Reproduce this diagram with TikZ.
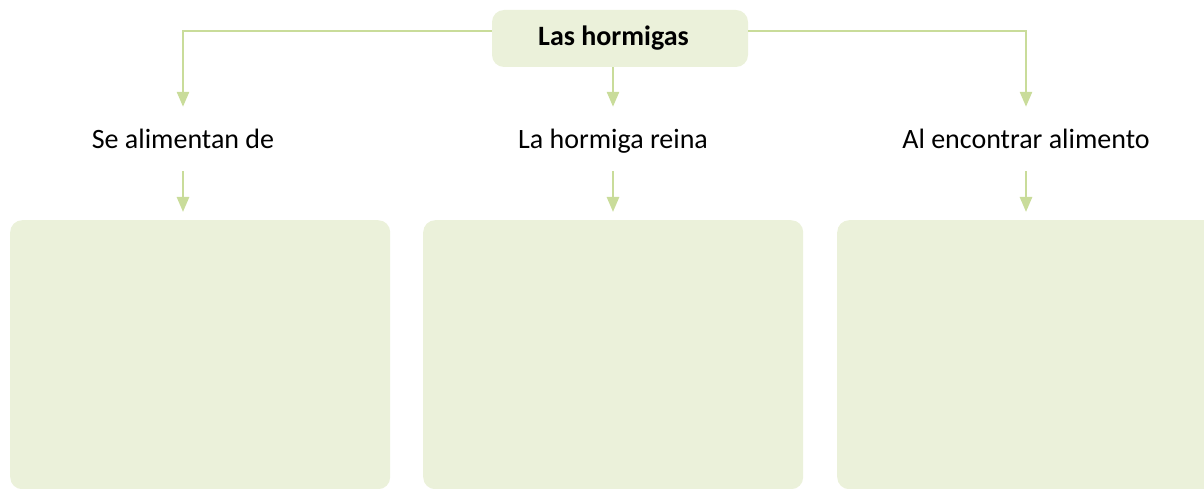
\documentclass[tikz,border=0pt]{standalone}
\usepackage{fontspec}
\setmainfont{Carlito}
\usetikzlibrary{arrows.meta}
\definecolor{lineG}{HTML}{C9DC9A}
\definecolor{boxG}{HTML}{EBF1DA}
\begin{document}
\begin{tikzpicture}[x=1pt,y=-1pt,
  conn/.style={draw=lineG,line width=2.6pt,-{Triangle[length=15pt,width=12pt]}},
  lbl/.style={anchor=base,font=\fontsize{28}{32}\selectfont,text height=20pt,text depth=0pt,inner xsep=0pt,inner ysep=22pt},
  bigbox/.style={fill=boxG,rounded corners=12pt,minimum width=380pt,minimum height=269pt,anchor=north west,inner sep=0pt}
]
\useasboundingbox (0,0) rectangle (1204,489);
\node[fill=boxG,rounded corners=12pt,minimum width=256pt,minimum height=57pt,inner sep=0pt,
  font=\fontsize{28}{32}\selectfont\bfseries] (title) at (620,38.5) {Las hormigas\hspace*{13pt}};
\node[lbl] (l1) at (183,149) {Se alimentan de};
\node[lbl] (l2) at (613,149) {La hormiga reina};
\node[lbl] (l3) at (1026,149) {Al encontrar alimento};
\node[bigbox] (b1) at (10,220) {};
\node[bigbox] (b2) at (423,220) {};
\node[bigbox,minimum width=390pt] (b3) at (837,220) {};
\draw[conn] (title.west) ++(0,-7.5) -| (l1.north);
\draw[conn] (title.east) ++(0,-7.5) -| (l3.north);
\draw[conn] (title.south -| l2.north) -- (l2.north);
\draw[conn,shorten >=8pt] (l1.south) -- (b1.north -| l1.south);
\draw[conn,shorten >=8pt] (l2.south) -- (b2.north -| l2.south);
\draw[conn,shorten >=8pt] (l3.south) -- (b3.north -| l3.south);
\end{tikzpicture}
\end{document}
